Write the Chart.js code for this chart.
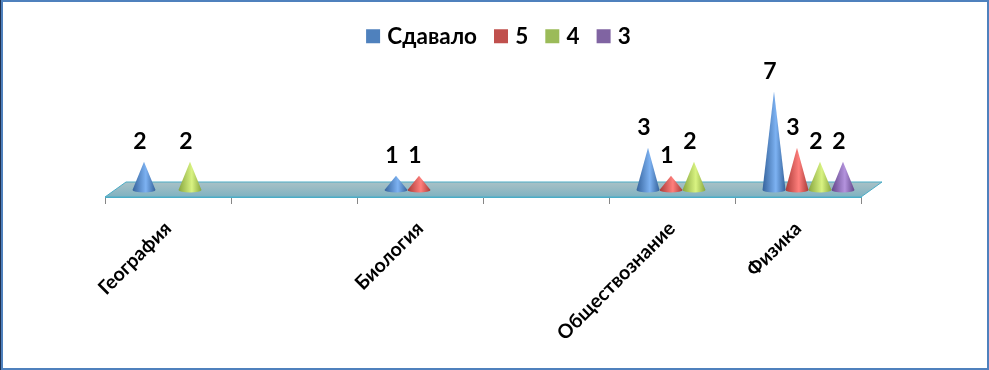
<!DOCTYPE html>
<html>
<head>
<meta charset="utf-8">
<style>
  html, body { margin: 0; padding: 0; background: #fff; }
  #chart { display: block; }
</style>
<script src="https://cdn.jsdelivr.net/npm/chart.js@4"></script>
</head>
<body>
<canvas id="chart" width="989" height="370"></canvas>
<script>
const categories = ["География", "", "Биология", "", "Обществознание", "Физика"];
const seriesNames = ["Сдавало", "5", "4", "3"];
const sdavalo = [2, null, 1, null, 3, 7];
const five = [null, null, 1, null, 1, 3];
const four = [2, null, null, null, 2, 2];
const three = [null, null, null, null, null, 2];

const FONT = "Lato, 'Noto Sans', sans-serif";
const colors = ["#4f81bd", "#c0504d", "#9bbb59", "#8064a2"];
// dark edge, light centre for the cone shading
const shades = [
  ["#35639c", "#7db2f2"],
  ["#a93a37", "#ff7f7c"],
  ["#87a63f", "#d9f382"],
  ["#63468a", "#b493dd"],
];
const depthX = 21;
const depthY = 15;

// frame + floor are drawn before the cones
const floorPlugin = {
  id: "floor",
  afterLayout(chart) {
    // legend sits centred on the window, not on the plot area
    chart.legend.right += 35;
  },
  beforeDraw(chart) {
    const c = chart.ctx;
    c.save();
    c.fillStyle = "#4f81bd";
    c.fillRect(0, 0, chart.width, 2);
    c.fillRect(0, chart.height - 2, chart.width, 2);
    c.fillRect(0, 0, 3, chart.height);
    c.fillRect(chart.width - 2, 0, 2, chart.height);
    c.fillStyle = "#1f3050";
    c.fillRect(0, 0, 1, chart.height);
    c.restore();
  },
  beforeDatasetsDraw(chart) {
    const c = chart.ctx;
    const a = chart.chartArea;
    const g = c.createLinearGradient(0, a.bottom - depthY, 0, a.bottom);
    g.addColorStop(0, "#a9c1c6");
    g.addColorStop(1, "#7fb2c1");
    c.save();
    c.beginPath();
    c.moveTo(a.left, a.bottom);
    c.lineTo(a.left + depthX, a.bottom - depthY);
    c.lineTo(a.right + depthX, a.bottom - depthY);
    c.lineTo(a.right, a.bottom);
    c.closePath();
    c.fillStyle = g;
    c.fill();
    c.strokeStyle = "#4bacc6";
    c.lineWidth = 1;
    c.stroke();
    c.restore();
  },
};

// replaces the flat bars with cones standing in the middle of the floor
const conePlugin = {
  id: "cones",
  beforeDatasetDraw(chart, args) {
    const c = chart.ctx;
    const shade = shades[args.index];
    args.meta.data.forEach((bar, i) => {
      if (chart.data.datasets[args.index].data[i] == null) return;
      const x = bar.x + depthX / 2;
      const hw = bar.width / 2;
      const g = c.createLinearGradient(x - hw, 0, x + hw, 0);
      g.addColorStop(0, shade[0]);
      g.addColorStop(0.58, shade[1]);
      g.addColorStop(1, shade[0]);
      c.save();
      c.beginPath();
      c.moveTo(x - hw, bar.base);
      c.lineTo(x, bar.y);
      c.lineTo(x + hw, bar.base);
      c.ellipse(x, bar.base, hw, 2.5, 0, 0, Math.PI);
      c.closePath();
      c.fillStyle = g;
      c.fill();
      c.restore();
    });
    return false;
  },
  afterDatasetsDraw(chart) {
    const c = chart.ctx;
    c.save();
    c.fillStyle = "#000";
    c.font = "bold 23px " + FONT;
    c.textAlign = "center";
    c.textBaseline = "middle";
    chart.data.datasets.forEach((ds, d) => {
      chart.getDatasetMeta(d).data.forEach((bar, i) => {
        if (ds.data[i] == null) return;
        c.fillText(String(ds.data[i]), bar.x + 6.5, bar.y - 20);
      });
    });
    c.restore();
  },
};

new Chart(document.getElementById("chart"), {
  type: "bar",
  data: {
    labels: categories,
    datasets: [sdavalo, five, four, three].map((values, i) => ({
      label: seriesNames[i],
      data: values,
      backgroundColor: colors[i],
      borderWidth: 0,
      categoryPercentage: 0.73,
      barPercentage: 1,
    })),
  },
  plugins: [floorPlugin, conePlugin],
  options: {
    responsive: false,
    animation: false,
    layout: { padding: { left: 105, right: 128, top: 4, bottom: 0 } },
    plugins: {
      legend: {
        position: "top",
        labels: {
          usePointStyle: true,
          pointStyle: "rect",
          boxWidth: 6,
          boxHeight: 14,
          padding: 21,
          color: "#000",
          font: { family: FONT, size: 22.5, weight: "bold" },
        },
      },
      tooltip: { enabled: false },
    },
    scales: {
      x: {
        grid: {
          drawOnChartArea: false,
          drawTicks: true,
          tickLength: 7,
          color: "#868686",
        },
        border: { color: "#4bacc6", width: 1 },
        ticks: {
          autoSkip: false,
          maxRotation: 45,
          minRotation: 45,
          color: "#000",
          padding: 13,
          font: { family: FONT, size: 19.5, weight: "bold" },
        },
        afterFit(scale) {
          scale.height = 173;
        },
      },
      y: {
        display: false,
        min: -0.5,
        max: 9.4,
      },
    },
  },
});
</script>
</body>
</html>
